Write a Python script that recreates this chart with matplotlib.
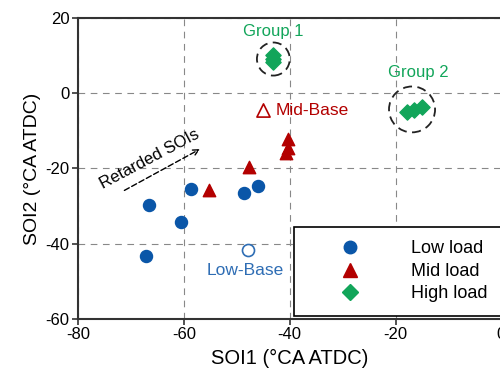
import matplotlib.pyplot as plt
from matplotlib.patches import Ellipse
from matplotlib.lines import Line2D

plt.rcParams['font.family'] = ['Liberation Sans', 'DejaVu Sans']
plt.rcParams['axes.unicode_minus'] = False

# SOI1 / SOI2 values (°CA ATDC)
low_x = [-66.6, -67.1, -60.5, -58.6, -48.6, -46.0]
low_y = [-29.8, -43.4, -34.2, -25.5, -26.4, -24.6]
mid_x = [-55.3, -47.7, -40.3, -40.4, -40.8]
mid_y = [-25.8, -19.7, -12.1, -14.6, -16.0]
high_x = [-43.1, -43.1, -43.1, -17.9, -16.6, -15.0]
high_y = [10.1, 9.2, 8.3, -5.0, -4.4, -3.6]
low_base = (-47.9, -41.8)
mid_base = (-45.0, -4.5)

blue = '#0A56A8'
red = '#B30000'
green = '#12A55A'

fig = plt.figure(figsize=(5, 3.76), dpi=100)
ax = fig.add_axes([0.156, 0.152, 0.847, 0.80])

ax.scatter(low_x, low_y, s=75, marker='o', color=blue, zorder=3)
ax.scatter(mid_x, mid_y, s=80, marker='^', color=red, zorder=3)
ax.scatter(high_x, high_y, s=60, marker='D', color=green, zorder=3)

ax.scatter(*low_base, s=75, marker='o', facecolor='white', edgecolor='#2E6DB4', linewidth=1.2, zorder=3)
ax.scatter(*mid_base, s=90, marker='^', facecolor='white', edgecolor=red, linewidth=1.2, zorder=3)

# dashed rings around the two high-load groups
ax.add_patch(Ellipse((-43.1, 9.1), 6.2, 8.8, fill=False, ls=(0, (5, 3)), lw=1.3, color='#222222', zorder=4))
ax.add_patch(Ellipse((-16.9, -4.3), 8.7, 12.2, fill=False, ls=(0, (5, 3)), lw=1.3, color='#222222', zorder=4))

ax.text(-43.2, 16.5, 'Group 1', color=green, fontsize=12, ha='center', va='center')
ax.text(-15.7, 5.6, 'Group 2', color=green, fontsize=12, ha='center', va='center')
ax.text(-42.6, -4.5, 'Mid-Base', color=red, fontsize=12.5, ha='left', va='center')
ax.text(-48.4, -47.1, 'Low-Base', color='#2E6DB4', fontsize=12.5, ha='center', va='center')

ax.annotate('', xy=(-56.5, -14.5), xytext=(-71.7, -26.2),
            arrowprops=dict(arrowstyle='->', ls=(0, (4, 2)), lw=1.0, color='black'))
ax.text(-66.4, -17.6, 'Retarded SOIs', fontsize=12, rotation=28,
        ha='center', va='center', rotation_mode='anchor')

ax.set_xlim(-80, 0)
ax.set_ylim(-60, 20)
ax.set_xticks([-80, -60, -40, -20, 0])
ax.set_yticks([-60, -40, -20, 0, 20])
ax.grid(True, ls=(0, (6, 5)), color='#888888', lw=0.8)
ax.set_axisbelow(True)
ax.tick_params(labelsize=12, length=4, width=1.2, direction='out', color='#333333', pad=2)
for s in ax.spines.values():
    s.set_linewidth(1.5)
    s.set_color('#333333')

ax.set_xlabel('SOI1 (°CA ATDC)', fontsize=14.5, labelpad=5)
ax.set_ylabel('SOI2 (°CA ATDC)', fontsize=14, labelpad=3)

handles = [
    Line2D([], [], ls='none', marker='o', markersize=9, color=blue),
    Line2D([], [], ls='none', marker='^', markersize=10, color=red),
    Line2D([], [], ls='none', marker='D', markersize=8, color=green),
]
leg = ax.legend(handles, ['Low load', 'Mid load', 'High load'], loc='lower right',
                bbox_to_anchor=(1.0, 0.01), fontsize=13, handlelength=4.7,
                handletextpad=1.08, borderpad=0.75, labelspacing=0.3,
                borderaxespad=0, fancybox=False, framealpha=1)
leg.get_frame().set_edgecolor('black')
leg.get_frame().set_linewidth(1.2)

fig.savefig('out.png', dpi=100)
